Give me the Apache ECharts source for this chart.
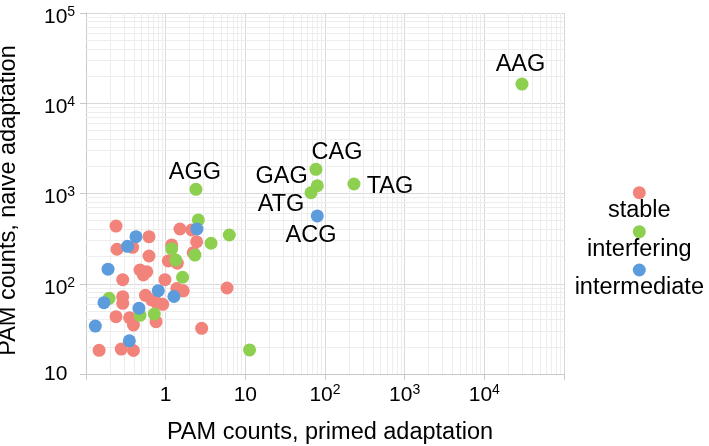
<!DOCTYPE html>
<html><head><meta charset="utf-8">
<script src="https://cdn.jsdelivr.net/npm/echarts@6/dist/echarts.min.js"></script>
<style>html,body{margin:0;padding:0;background:#fff}#c{width:709px;height:446px}</style>
</head><body><div id="c"></div>
<script>
// ---- data ----
const seriesNames = ['stable', 'interfering', 'intermediate'];
const stableX = [0.238,0.245,0.385,0.618,0.618,0.476,0.578,0.524,0.289,0.98,1.08,1.19,1.40,1.51,2.12,2.45,2.22,1.38,1.66,5.89,0.289,0.289,0.558,0.668,0.771,0.918,0.238,0.353,0.394,0.757,2.83,0.146,0.277,0.394];
const stableY = [436,241,253,332,203,142,136,125,111,111,179,269,169,404,394,292,221,88.6,83.5,89.7,71.9,60.7,74.5,66.1,61.7,59.2,43.2,42.1,34.9,38.0,32.1,18.3,18.9,18.2];
const interferingX = [2.57,6.29,3.71,1.19,1.34,2.33,1.63,0.195,0.476,0.72,11.3,2.40,77,80,66.7,231,29700];
const interferingY = [509,347,281,244,183,208,118,69,44.7,46.2,18.5,1113,1855,1219,1020,1274,16300];
const interferingLabels = ['','','','','','','','','','','','AGG','CAG','GAG','ATG','TAG','AAG'];
const intermediateX = [2.47,0.424,0.332,0.189,0.808,1.27,0.168,0.462,0.131,0.350,80];
const intermediateY = [404,332,260,145,83.8,72.2,61.7,53.5,34.0,23.3,564];
const intermediateLabels = ['','','','','','','','','','','ACG'];
const xTickExponents = [0,1,2,3,4];
const yTickExponents = [1,2,3,4,5];
const xAxisName = 'PAM counts, primed adaptation';
const yAxisName = 'PAM counts, naive adaptation';

// ---- styles ----
const FONT = '"Liberation Sans", Arial, Helvetica, sans-serif';
const BIG = 23.5;
const colors = ['#F2837B', '#8DCF4F', '#5C9BDC'];
const labelOffsets = {AGG:[-1,-17], CAG:[21,-17], GAG:[-35.6,-9], ATG:[-30,12], TAG:[36,2.5], AAG:[-1.5,-19.3], ACG:[-6.3,19.7]};

function buildData(xs, ys, labels) {
  return xs.map((x, i) => {
    const name = labels ? labels[i] : '';
    const item = {value: [x, ys[i]], name: name};
    if (name) {
      item.label = {show: true, formatter: name, position: 'inside', offset: labelOffsets[name] || [0,0],
        fontSize: BIG, fontFamily: FONT, color: '#000', align: 'center', verticalAlign: 'middle'};
    }
    return item;
  });
}

const minorX = [], minorY = [];
for (let e = -1; e < 5; e++) for (let m = 2; m < 10; m++) minorX.push(m * Math.pow(10, e));
for (let e = 1; e < 5; e++) for (let m = 2; m < 10; m++) minorY.push(m * Math.pow(10, e));

const richStyles = {
  b: {fontSize: 21, fontFamily: FONT, color: '#000', lineHeight: 22, padding: [8, 0, 0, 0]},
  p: {fontSize: 21, fontFamily: FONT, color: '#000', lineHeight: 22},
  s: {fontSize: 14, fontFamily: FONT, color: '#000', lineHeight: 10, verticalAlign: 'top', padding: [3, 0, 17, 0]}
};
function expLabel(v, allowed, plainNoSup) {
  const e = Math.round(Math.log10(v));
  if (allowed.indexOf(e) < 0) return '';
  if (e === 0) return '{b|1}';
  if (e === 1) return plainNoSup ? '{p|10}' : '{b|10}';
  return '{b|10}{s|' + e + '}';
}

function measure(s, size) {
  const ctx = document.createElement('canvas').getContext('2d');
  ctx.font = size + 'px ' + FONT;
  return ctx.measureText(s).width;
}
const legendCx = 639.3;
const legendIconCy = [192.7, 231.7, 270];
const legends = seriesNames.map((n, i) => {
  const w = measure(n, BIG);
  return {
    data: [{name: n, icon: 'circle'}],
    orient: 'vertical', left: legendCx - w / 2, top: legendIconCy[i] - 36,
    itemWidth: 13, itemHeight: 13, itemGap: 0, padding: 0, selectedMode: false,
    formatter: (name) => '\n' + name,
    textStyle: {fontSize: BIG, fontFamily: FONT, color: '#000', lineHeight: 36, padding: [0, 0, 0, -w / 2 - 11.5]}
  };
});

const chart = echarts.init(document.getElementById('c'), null, {renderer: 'canvas'});
chart.setOption({
  animation: false,
  backgroundColor: '#fff',
  color: colors,
  textStyle: {fontFamily: FONT},
  grid: {left: 86, right: 145, top: 13, bottom: 72, containLabel: false, outerBoundsMode: 'none'},
  legend: legends,
  xAxis: {
    type: 'log', logBase: 10, min: 0.1, max: 100000,
    name: xAxisName, nameLocation: 'middle', nameGap: 47,
    nameTextStyle: {fontSize: BIG, fontFamily: FONT, color: '#000', padding: [0, 0, 0, 10]},
    axisLine: {show: true, lineStyle: {color: '#c8c8c8', width: 1}},
    axisTick: {show: true, inside: false, length: 6, lineStyle: {color: '#c8c8c8'}},
    axisLabel: {margin: 6, formatter: (v) => expLabel(v, xTickExponents, false), rich: richStyles, showMinLabel: true, showMaxLabel: true, hideOverlap: false},
    splitLine: {show: true, lineStyle: {color: '#d9d9d9', width: 1}},
    minorTick: {show: false}, minorSplitLine: {show: false}
  },
  yAxis: {
    type: 'log', logBase: 10, min: 10, max: 100000,
    name: yAxisName, nameLocation: 'middle', nameGap: 65, nameRotate: 90,
    nameTextStyle: {fontSize: BIG, fontFamily: FONT, color: '#000', padding: [0, 14, 0, 0]},
    axisLine: {show: true, lineStyle: {color: '#c8c8c8', width: 1}},
    axisTick: {show: true, inside: false, length: 6, lineStyle: {color: '#c8c8c8'}},
    axisLabel: {margin: 42, align: 'left', formatter: (v) => expLabel(v, yTickExponents, true), rich: richStyles, showMinLabel: true, showMaxLabel: true, hideOverlap: false},
    splitLine: {show: true, lineStyle: {color: '#d9d9d9', width: 1}},
    minorTick: {show: false}, minorSplitLine: {show: false}
  },
  series: [
    {
      name: seriesNames[0], type: 'scatter', symbol: 'circle', symbolSize: 13,
      itemStyle: {color: colors[0], opacity: 1}, z: 2,
      data: buildData(stableX, stableY, null),
      markLine: {
        silent: true, symbol: ['none', 'none'], z: 1, animation: false,
        label: {show: false}, emphasis: {disabled: true},
        lineStyle: {color: '#ededed', width: 1, type: 'solid'},
        data: minorX.map(v => ({xAxis: v})).concat(minorY.map(v => ({yAxis: v})))
      }
    },
    {
      name: seriesNames[1], type: 'scatter', symbol: 'circle', symbolSize: 13,
      itemStyle: {color: colors[1], opacity: 1}, z: 3,
      data: buildData(interferingX, interferingY, interferingLabels)
    },
    {
      name: seriesNames[2], type: 'scatter', symbol: 'circle', symbolSize: 13,
      itemStyle: {color: colors[2], opacity: 1}, z: 4,
      data: buildData(intermediateX, intermediateY, intermediateLabels)
    }
  ]
});
</script>
</body></html>
